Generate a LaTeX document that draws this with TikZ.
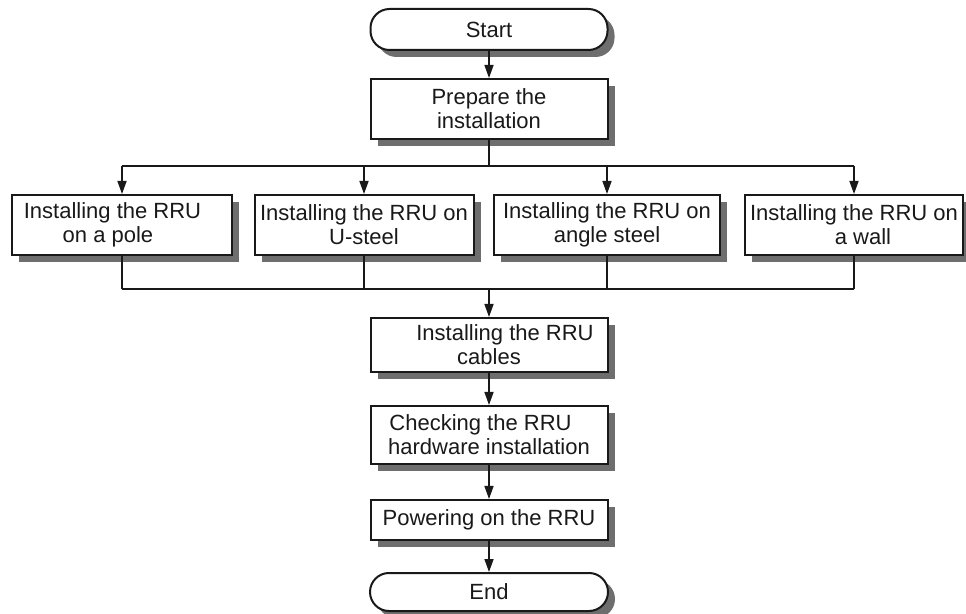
\documentclass[tikz,border=0pt]{standalone}
\usepackage{fontspec}
\setmainfont{Liberation Sans}
\definecolor{fcline}{RGB}{25,25,25}
\definecolor{fcshade}{RGB}{110,110,110}
\usetikzlibrary{arrows.meta,positioning,shadows}
\tikzset{
    stepbox/.style={
        draw=fcline, line width=2pt, fill=white, align=center,
        minimum width=237pt, minimum height=#1,
        inner xsep=2pt, inner ysep=0pt, text=fcline,
        font=\fontsize{22}{24}\selectfont,
        drop shadow={shadow xshift=7pt, shadow yshift=-7pt,
                     fill=fcshade, opacity=1}
    },
    stepbox/.default=60pt,
    termbox/.style={stepbox=#1, rounded corners=19pt},
    termbox/.default=40pt,
    link/.style={line width=1.5pt, draw=fcline},
    arrow/.style={link, -{Triangle[length=13pt,width=9pt]}}
}

\begin{document}
\begin{tikzpicture}[x=1pt, y=1pt]
\useasboundingbox (0,0) rectangle (966,613);
% main column
\node[termbox=41pt] (start) at (489,583.5) {Start};
\node[stepbox, below=27pt of start] (prep) {Prepare the\\installation};
% four ways to mount the unit
\node[stepbox, minimum width=220pt] (pole) at (122,388)
  {Installing the RRU\hspace*{19pt}\\on a pole\hspace*{28pt}};
\node[stepbox, minimum width=219pt] (usteel) at (364,388)
  {Installing the RRU on\\U-steel};
\node[stepbox, minimum width=226pt] (angle) at (607,388)
  {Installing the RRU on\\angle steel};
\node[stepbox, minimum width=218pt] (wall) at (854,388)
  {Installing the RRU on\\\hspace*{18pt}a wall};
\node[stepbox=54pt] (cables) at (489,268)
  {\hspace*{32pt}Installing the RRU\\cables};
\node[stepbox=58pt, below=32pt of cables] (check)
  {Checking the RRU\hspace*{17pt}\\hardware installation};
\node[stepbox=40pt, below=34pt of check] (power) {Powering on the RRU};
\node[termbox=38pt, minimum width=238pt, below=31pt of power] (end) {End};
\coordinate (split) at (489,447);
\coordinate (join) at (489,324);
% connectors
\draw[arrow](start)--(prep);
\draw[link](prep)--(split);
\draw[link](pole.north |- split)--(wall.north |- split);
\foreach \way in {pole,usteel,angle,wall}{
  \draw[arrow](\way.north |- split)--(\way);
  \draw[link](\way)--(\way.south |- join);
}
\draw[link](pole.south |- join)--(wall.south |- join);
\draw[arrow](join)--(cables);
\draw[arrow](cables)--(check);
\draw[arrow](check)--(power);
\draw[arrow](power)--(end);
\end{tikzpicture}
\end{document}
